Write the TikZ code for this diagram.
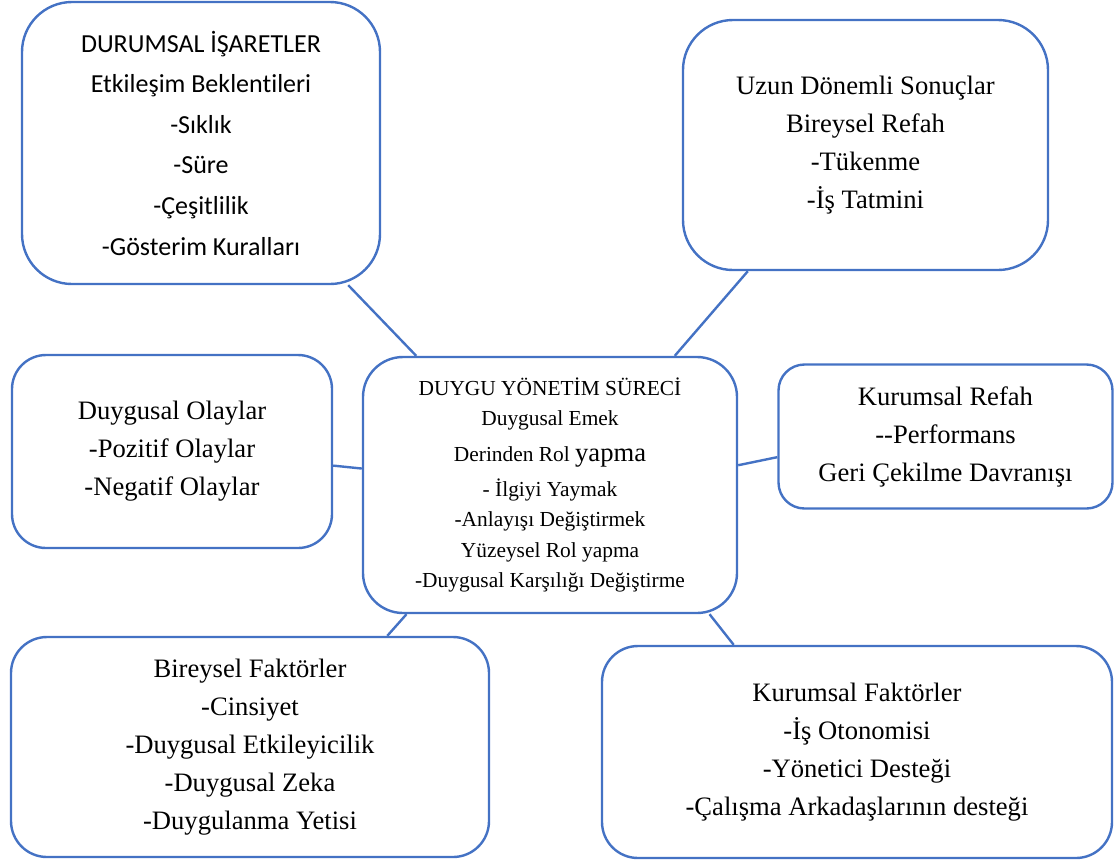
\documentclass[tikz,border=0pt]{standalone}
\usepackage{fontspec}
\setmainfont{Liberation Serif}
\newfontfamily\calibri[Ligatures=NoCommon]{Carlito}
\usetikzlibrary{calc,positioning}
\definecolor{cizgi}{RGB}{68,114,196}

\begin{document}
\begin{tikzpicture}[x=0.5pt,y=-0.5pt,
    kutu/.style={draw=cizgi,line width=1.2pt,fill=white,align=center,inner sep=0pt,
      font=\fontsize{13.3}{19}\selectfont},
    bag/.style={draw=cizgi,line width=1.2pt}]
    \useasboundingbox (0,0) rectangle (1115,864);

    % kutular
    \node[kutu,minimum width=179pt,minimum height=141pt,rounded corners=25pt,
      font=\calibri\fontsize{13}{20.3}\selectfont] (DI) at (201,143)
      {DURUMSAL İŞARETLER\\Etkileşim Beklentileri\\-Sıklık\\-Süre\\-Çeşitlilik\\-Gösterim Kuralları};
    \node[kutu,minimum width=182.5pt,minimum height=125pt,rounded corners=25pt] (US) at (865.5,145)
      {Uzun Dönemli Sonuçlar\\Bireysel Refah\\-Tükenme\\-İş Tatmini};
    \node[kutu,minimum width=187pt,minimum height=128pt,rounded corners=20pt,
      font=\fontsize{10.7}{15.2}\selectfont] (DY) at (550,485)
      {DUYGU YÖNETİM SÜRECİ\\Duygusal Emek\\[2.5pt]
       Derinden Rol {\fontsize{13.3}{15}\selectfont yapma}\\[2.5pt]
       - İlgiyi Yaymak\\-Anlayışı Değiştirmek\\Yüzeysel Rol yapma\\-Duygusal Karşılığı Değiştirme};
    \node[kutu,minimum width=160pt,minimum height=96.5pt,rounded corners=17pt] (DO) at (172,451.5)
      {Duygusal Olaylar\\-Pozitif Olaylar\\-Negatif Olaylar};
    \node[kutu,minimum width=167pt,minimum height=72pt,rounded corners=13pt] (KR) at (945.5,436.5)
      {Kurumsal Refah\\-{}-Performans\\Geri Çekilme Davranışı};
    \node[kutu,minimum width=239pt,minimum height=110pt,rounded corners=18pt] (BF) at (250,747)
      {Bireysel Faktörler\\-Cinsiyet\\-Duygusal Etkileyicilik\\-Duygusal Zeka\\-Duygulanma Yetisi};
    \node[kutu,minimum width=255pt,minimum height=106pt,rounded corners=18pt] (KF) at (857,752)
      {Kurumsal Faktörler\\-İş Otonomisi\\-Yönetici Desteği\\-Çalışma Arkadaşlarının desteği};

    % baglantilar
    \draw[bag] (DI.-44) -- (DY.136);
    \draw[bag] (US.-133) -- (DY.46);
    \draw[bag] (DO.-5.5) -- (DY.175.4);
    \draw[bag] (DY.6.7) -- (KR.-173);
    \draw[bag] (DY.-138.6) -- (BF.39.2);
    \draw[bag] (DY.-39) -- (KF.139);
\end{tikzpicture}
\end{document}
